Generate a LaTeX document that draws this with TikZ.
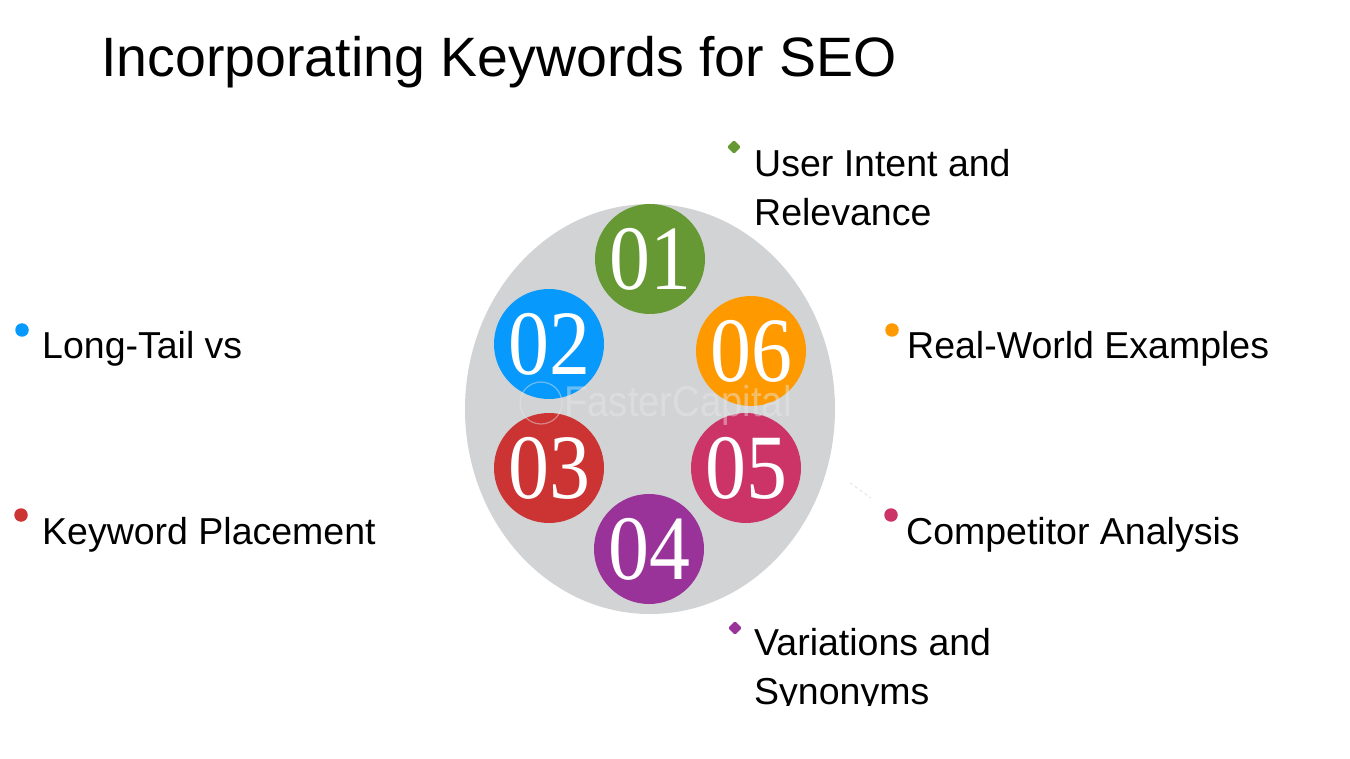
\documentclass[tikz,border=0pt]{standalone}
\usepackage{fontspec}
\setmainfont{Liberation Sans}
\newfontfamily\numfont{Liberation Serif}
\usetikzlibrary{shapes.geometric}
\definecolor{disc}{HTML}{D1D3D4}
\definecolor{cA}{HTML}{669933}
\definecolor{cB}{HTML}{0799FB}
\definecolor{cC}{HTML}{CC3333}
\definecolor{cD}{HTML}{993399}
\definecolor{cE}{HTML}{CC3366}
\definecolor{cF}{HTML}{FF9900}
\definecolor{wm}{HTML}{E8E9EA}
\tikzset{
  numdisc/.style={circle,minimum size=110pt,inner sep=0pt,text=white,font=\fontsize{92}{92}\numfont},
  lab/.style={anchor=base west,inner sep=0pt,font=\fontsize{37.5}{49}\selectfont,align=left,text=black},
  dotc/.style={circle,minimum size=13.5pt,inner sep=0pt},
  dotd/.style={diamond,minimum size=14pt,inner sep=0pt,rounded corners=1.5pt}
}
\newcommand{\numtext}[1]{\raisebox{-0.5pt}{\scalebox{0.89}[1]{#1}}}
\begin{document}
\begin{tikzpicture}[x=1pt,y=-1pt]
\useasboundingbox (0,0) rectangle (1350,759);
\fill[white] (0,0) rectangle (1350,759);
\node[anchor=base west,inner sep=0pt,font=\fontsize{55.5}{55.5}\selectfont] (title) at (101,77) {Incorporating Keywords for SEO};
\node[ellipse,fill=disc,minimum width=370pt,minimum height=410pt,inner sep=0pt] (bg) at (650,409) {};
\node[numdisc,fill=cA] (n1) at (650,259) {\numtext{01}};
\node[numdisc,fill=cB] (n2) at (549,344) {\numtext{02}};
\node[numdisc,fill=cC] (n3) at (549,468) {\numtext{03}};
\node[numdisc,fill=cD] (n4) at (649,549) {\numtext{04}};
\node[numdisc,fill=cE] (n5) at (746,468) {\numtext{05}};
\node[numdisc,fill=cF] (n6) at (751,351) {\numtext{06}};
\node[anchor=base west,inner sep=0pt,text=wm,opacity=0.45,font=\fontsize{43}{43}\selectfont] (mark) at (564,416) {\scalebox{0.89}[1]{FasterCapital}};
\node[circle,draw=wm,opacity=0.45,line width=1.2pt,minimum size=42pt,inner sep=0pt] (gear) at (541,403) {};
\node[dotd,fill=cA] (d1) at (734,147) {};
\node[dotc,fill=cB] (d2) at (22,330) {};
\node[dotc,fill=cC] (d3) at (21,515) {};
\node[dotd,fill=cD] (d4) at (735,628) {};
\node[dotc,fill=cE] (d5) at (891,515) {};
\node[dotc,fill=cF] (d6) at (892,330) {};
\node[lab] (l1) at (754,226) {User Intent and\\Relevance};
\node[lab] (l2) at (42,359) {Long-Tail vs};
\node[lab] (l3) at (42,544) {Keyword Placement};
\node[lab] (l4) at (754,704) {Variations and\\Synonyms};
\node[lab] (l5) at (906,544) {Competitor Analysis};
\node[lab] (l6) at (907,359) {Real-World Examples};
\fill[white] (740,706) rectangle (950,730);
\coordinate (sa) at (850,483);
\coordinate (sb) at (871,498);
\draw[black!12,line width=0.8pt,dashed] (sa) -- (sb);
\end{tikzpicture}
\end{document}
